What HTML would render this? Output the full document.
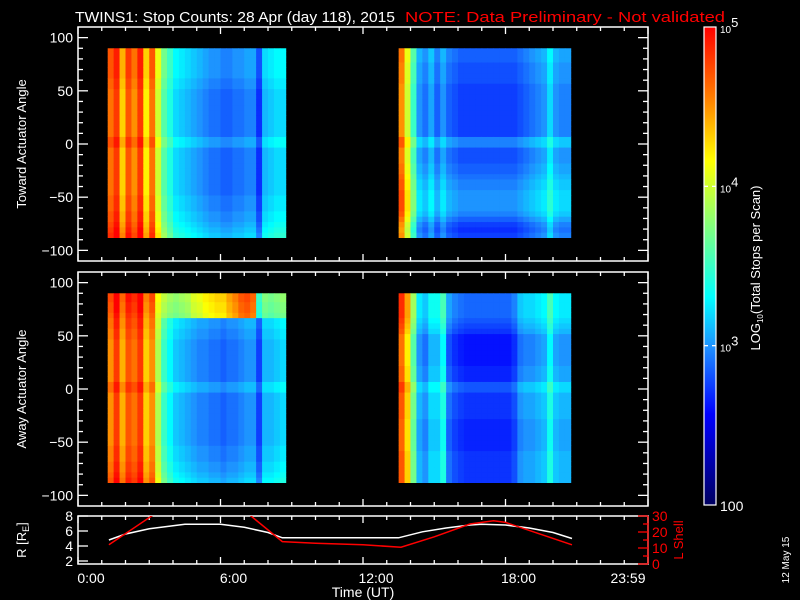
<!DOCTYPE html>
<html><head><meta charset="utf-8"><style>
html,body{margin:0;padding:0;background:#000;width:800px;height:600px;overflow:hidden}
svg{display:block;font-family:"Liberation Sans",sans-serif}
</style></head><body>
<svg id="chart" width="800" height="600" viewBox="0 0 800 600" xmlns="http://www.w3.org/2000/svg">
<rect x="0" y="0" width="800" height="600" fill="#000"/>
<text x="75" y="22" fill="#fff" font-size="15" textLength="320" lengthAdjust="spacingAndGlyphs">TWINS1: Stop Counts: 28 Apr (day 118), 2015</text>
<text x="405" y="22" fill="#f00" font-size="15" textLength="320" lengthAdjust="spacingAndGlyphs">NOTE: Data Preliminary - Not validated</text>
<g id="cells"></g>
<g id="axes"></g>
<g id="cbar"></g>
<g id="orbit"></g>
<text transform="translate(26,144) rotate(-90)" text-anchor="middle" fill="#fff" font-size="13">Toward Actuator Angle</text>
<text transform="translate(26,389) rotate(-90)" text-anchor="middle" fill="#fff" font-size="13">Away Actuator Angle</text>
<text transform="translate(26,540) rotate(-90)" text-anchor="middle" fill="#fff" font-size="13">R [R<tspan font-size="9" dy="3">E</tspan><tspan dy="-3">]</tspan></text>
<text transform="translate(683,540) rotate(-90)" text-anchor="middle" fill="#f00" font-size="13">L Shell</text>
<text x="363" y="597" text-anchor="middle" fill="#fff" font-size="14">Time (UT)</text>
<text transform="translate(760,268) rotate(-90)" text-anchor="middle" fill="#fff" font-size="13">LOG<tspan font-size="8" dy="3">10</tspan><tspan dy="-3">(Total Stops per Scan)</tspan></text>
<text transform="translate(789,560) rotate(-90)" text-anchor="middle" fill="#fff" font-size="10">12 May 15</text>
</svg>
<script>
// ---- data ----
const leftTimes0 = 1.25, rightTimes0 = 13.5, colStep = 0.25;
const p1LeftCols = [4.6,4.8,4.3,4.7,4.5,4.8,4.2,4.6,4.0,3.6,3.4,3.2,3.15,3.1,3.05,3.0,2.95,2.9,2.9,2.85,2.85,2.9,2.9,2.95,2.95,2.7,3.1,3.15,3.2,3.2];
const p1RightCols = [4.5,4.0,3.5,3.0,2.9,3.05,2.85,3.0,2.85,2.8,2.75,2.75,2.75,2.75,2.75,2.75,2.75,2.75,2.75,2.75,2.8,2.85,2.9,2.95,3.0,3.2,3.0,2.95,2.95];
const p2LeftCols = [4.5,4.8,4.4,4.7,4.6,4.8,4.3,4.5,3.9,3.5,3.3,3.15,3.1,3.05,3.0,2.95,2.95,2.9,2.9,2.85,2.9,2.9,2.95,3.0,3.0,2.75,3.1,3.1,3.15,3.2];
const p2RightCols = [4.6,4.2,3.6,3.0,2.9,3.1,3.1,3.3,2.8,2.7,2.65,2.62,2.62,2.62,2.62,2.62,2.62,2.62,2.62,2.7,2.9,2.95,2.95,3.0,3.05,3.3,3.05,3.0,3.0];
// angle adjustments, 36 rows from -90 (bottom) to 90 (top), 5 deg each
const p1LeftAdj  = [0.25,0.2,0.15,0.1,0.1,0.05,0.05,0.05,0,0,0,0,0,0,0,0,0,0.12,0.12,0,0,0,0,0,0,0,0,0,0.05,0.05,0.1,0.1,0.1,0.1,0.1,0.1];
const p1RightAdj = [0,-0.05,0,0.1,0.2,0.25,0.25,0.25,0.25,0.2,0.2,0.15,0.1,0.1,0.05,0.05,0.05,0.2,0.2,0,0,0,0,0,0,0,0,0,0,0.05,0.05,0.05,0.05,0.1,0.1,0.1];
const p2LeftAdj  = [0.2,0.15,0.1,0.1,0.05,0.05,0.05,0,0,0,0,0,0,0,0,0,0,0.12,0.12,0,0,0,0,0,0,0,0,0.05,0.05,0.1,0.1,0.15,0.2,0.2,0.25,0.25];
const p2RightAdj = [0.1,0.1,0.1,0.1,0.1,0.1,0.05,0.05,0.05,0.05,0.05,0.05,0.1,0.1,0.1,0.1,0.1,0.2,0.2,0.05,0.05,0.05,0,0,0,0,0,0,0.1,0.15,0.2,0.25,0.25,0.25,0.25,0.25];
// extra top band (angle >= 65) in panel 2 left
const p2TopBand = [0,0,0,0,0,0,0,0,0,0.2,0.3,0.4,0.5,0.6,0.8,0.9,1.0,1.1,1.15,1.2,1.3,1.4,1.5,1.5,1.4,0.5,0.4,0.35,0.35,0.35];
const rTimes = [1.3,2,3,4,4.5,5,6,7,8,8.6,10,12,13.5,14.5,15.5,16.5,17,18,19,20,20.8];
const rValues = [4.8,5.6,6.3,6.7,6.9,6.9,6.9,6.5,5.8,5.1,5.1,5.1,5.1,5.9,6.4,6.8,6.9,6.8,6.4,5.8,5.0];
const lTimes = [1.3,3.2,7.2,8.6,10,12,13.6,15,16.5,17.5,18,19,20.8];
const lValues = [12,31,31,14,13,12,10.5,17,25,27,26,21,12];
const cbTicks = [2,3,4,5];
const angleTicks = [-100,-50,0,50,100];
const timeTicks = [0,6,12,18,24];
const timeLabels = ["0:00","6:00","12:00","18:00","23:59"];
const rTicks = [2,4,6,8];
const lTicks = [0,10,20,30];

// ---- scales ----
const X0=78, X1=648;
const xT = t => X0 + (X1-X0)*t/24;
const panels=[{top:27,bot:261},{top:272,bot:506}];
const yA = (p,a) => p.top + (110-a)/220*(p.bot-p.top);
const P3T=516, P3B=564;
const yR = r => P3B - (r-1.6)/(8-1.6)*(P3B-P3T);
const yL = l => P3B - l/30*(P3B-P3T);
const CBT=27, CBB=505;
const yCB = v => CBB - (v-2)/3*(CBB-CBT);
const stops=[[0,[0,0,96]],[0.05,[0,0,140]],[0.19,[0,0,255]],[0.33,[30,144,255]],[0.435,[0,255,255]],[0.58,[127,255,127]],[0.72,[255,255,0]],[0.85,[255,128,0]],[1,[255,0,0]]];
function col(v){let f=Math.max(0,Math.min(1,(v-2)/3));for(let i=1;i<stops.length;i++){if(f<=stops[i][0]){const a=stops[i-1],b=stops[i];const u=(f-a[0])/(b[0]-a[0]);const c=a[1].map((x,k)=>Math.round(x+(b[1][k]-x)*u));return `rgb(${c})`;}}return 'rgb(255,0,0)';}

const NS='http://www.w3.org/2000/svg';
function mk(tag,attrs,parent){const e=document.createElementNS(NS,tag);for(const k in attrs)e.setAttribute(k,attrs[k]);parent.appendChild(e);return e;}
const cells=document.getElementById('cells'), axes=document.getElementById('axes'), cbar=document.getElementById('cbar'), orbit=document.getElementById('orbit');

// ---- spectrogram ----
function drawSeg(p,t0,cols,adj,band){
  for(let c=0;c<cols.length;c++){
    const xa=xT(t0+c*colStep), xb=xT(t0+(c+1)*colStep);
    for(let r=0;r<adj.length;r++){
      const a0=-88+r*5, a1=Math.min(90,a0+5);
      let v=cols[c]+adj[r];
      if(band && a0>=65) v+=band[c];
      const e=mk('rect',{x:xa.toFixed(2),y:yA(p,a1).toFixed(2),width:(xb-xa+0.4).toFixed(2),height:(yA(p,a0)-yA(p,a1)+0.4).toFixed(2),fill:col(v)},cells);
      
      
    }
  }
}
drawSeg(panels[0],leftTimes0,p1LeftCols,p1LeftAdj,null);
drawSeg(panels[0],rightTimes0,p1RightCols,p1RightAdj,null);
drawSeg(panels[1],leftTimes0,p2LeftCols,p2LeftAdj,p2TopBand);
drawSeg(panels[1],rightTimes0,p2RightCols,p2RightAdj,null);

// ---- axes ----
function line(x1,y1,x2,y2,c,parent){return mk('line',{x1,y1,x2,y2,stroke:c,'stroke-width':1.3},parent);}
function txt(x,y,s,anchor,c,size,parent){const e=mk('text',{x,y,'text-anchor':anchor,fill:c,'font-size':size},parent);e.textContent=s;return e;}
function timeTicksOn(top,bot){
  for(let h=0;h<=24;h++){const x=xT(h);const L=(h%6===0)?7:4;line(x,bot,x,bot-L,'#fff',axes);line(x,top,x,top+L,'#fff',axes);}
}
panels.forEach((p,i)=>{
  const fr=mk('rect',{x:X0,y:p.top,width:X1-X0,height:p.bot-p.top,fill:'none',stroke:'#fff','stroke-width':1.5},axes);
  
  
  for(let a=-100;a<=100;a+=10){const y=yA(p,a);const L=(a%50===0)?10:5;line(X0,y,X0+L,y,'#fff',axes);line(X1,y,X1-L,y,'#fff',axes);}
  angleTicks.forEach(a=>{const e=txt(X0-5,yA(p,a)+5,String(a).replace('-','\u2212'),'end','#fff',14,axes);
    
    });
  timeTicksOn(p.top,p.bot);
});
// panel 3
const fr3=mk('rect',{x:X0,y:P3T,width:X1-X0,height:P3B-P3T,fill:'none',stroke:'#fff','stroke-width':1.5},axes);


timeTicksOn(P3T,P3B);
line(X1,P3T,X1,P3B,'#f00',axes);
rTicks.forEach(r=>{line(X0,yR(r),X0+10,yR(r),'#fff',axes);const e=txt(X0-5,yR(r)+5,String(r),'end','#fff',14,axes);
  
  });
for(let l=0;l<=30;l+=5){line(X1,yL(l),X1-((l%10===0)?10:5),yL(l),'#f00',axes);}
lTicks.forEach(l=>{const e=txt(X1+4,yL(l)+5,String(l),'start','#f00',14,axes);
  
  });
timeTicks.forEach((h,i)=>{const x=i===timeTicks.length-1?xT(h)-20:xT(h)+13;const e=txt(x,583,timeLabels[i],'middle','#fff',14,axes);
  
  });

// orbit lines
const clip=mk('clipPath',{id:'p3clip'},orbit);mk('rect',{x:X0,y:P3T,width:X1-X0,height:P3B-P3T},clip);
const rp=mk('polyline',{points:rTimes.map((t,i)=>xT(t).toFixed(1)+','+yR(rValues[i]).toFixed(1)).join(' '),fill:'none',stroke:'#fff','stroke-width':1.5,'clip-path':'url(#p3clip)'},orbit);


const lp=mk('polyline',{points:lTimes.map((t,i)=>xT(t).toFixed(1)+','+yL(lValues[i]).toFixed(1)).join(' '),fill:'none',stroke:'#f00','stroke-width':1.5,'clip-path':'url(#p3clip)'},orbit);



// ---- colorbar ----
for(let y=CBT;y<CBB;y++){const v=2+(CBB-y-0.5)/(CBB-CBT)*3;mk('rect',{x:704,y:y,width:12,height:1.2,fill:col(v)},cbar);}
const cf=mk('rect',{x:704,y:CBT,width:12,height:CBB-CBT,fill:'none',stroke:'#fff','stroke-width':1.2},cbar);


cbTicks.forEach(v=>{
  const y=yCB(v);
  if(v>2&&v<5){line(704,y,708,y,'#fff',cbar);line(712,y,716,y,'#fff',cbar);}
  const e=mk('text',{x:720,y:y+6,fill:'#fff','font-size':14},cbar);
  
  
  if(v===2){e.textContent='100';}
  else{e.innerHTML='<tspan font-size="10">10</tspan><tspan dy="-6" font-size="13">'+v+'</tspan>';}
});
</script>
</body></html>
